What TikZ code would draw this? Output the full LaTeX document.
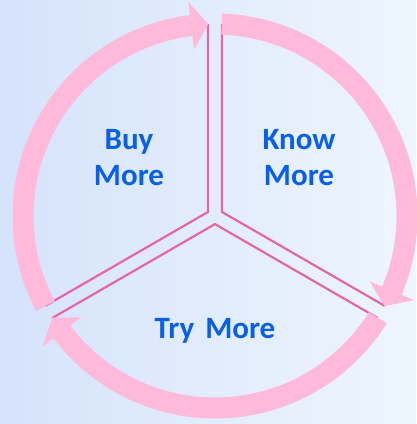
\documentclass[tikz,border=0pt]{standalone}
\usepackage{fontspec}
\setmainfont{Carlito}

\definecolor{bgleft}{HTML}{D5E3FB}
\definecolor{bgright}{HTML}{EEF5FD}
\definecolor{ringpink}{HTML}{FFB9DA}
\definecolor{spokepink}{HTML}{E466A9}
\definecolor{textblue}{HTML}{0A5FE8}

\begin{document}
\begin{tikzpicture}[x=1pt, y=1pt]
    \tikzset{
        bandstyle/.style={fill=ringpink},
        spokestyle/.style={draw=spokepink, line width=2.2pt, line join=miter},
        labelstyle/.style={text=textblue, font=\fontsize{31}{36}\selectfont\bfseries, align=center}
    }

    % --- FOND ---
    \shade[left color=bgleft, right color=bgright] (-215,-208) rectangle (201,216);
    \useasboundingbox (-215,-208) rectangle (201,216);

    % --- RAYONS (doubles traits) ---
    \coordinate (hubL) at (150:8.08);
    \coordinate (hubR) at (30:8.08);
    \coordinate (hubB) at (270:8.08);
    \coordinate (topL) at ([shift={(180:7)}]90:192);
    \coordinate (topR) at ([shift={(0:7)}]90:192);
    \coordinate (leftU) at ([shift={(120:7)}]210:192);
    \coordinate (leftD) at ([shift={(300:7)}]210:192);
    \coordinate (rightU) at ([shift={(60:7)}]330:192);
    \coordinate (rightD) at ([shift={(240:7)}]330:192);

    \draw[spokestyle] (leftU) -- (hubL) -- (topL);
    \draw[spokestyle] (topR) -- (hubR) -- (rightU);
    \draw[spokestyle] (leftD) -- (hubB) -- (rightD);

    % --- ANNEAU : 3 fleches circulaires ---
    % depart / pointe (en degres, sens horaire)
    \foreach \s/\e in {88/-28, -32/-148, -152/-268} {
        \pgfmathsetmacro{\b}{\e+5.1}
        \fill[bandstyle] (\s:202.5) arc[start angle=\s, end angle=\b, radius=202.5]
            -- (\b:216) -- (\e:192) -- (\b:168) -- (\b:181.5)
            arc[start angle=\b, end angle=\s, radius=181.5] -- cycle;
    }

    % --- TEXTES ---
    \node[labelstyle] (buy) at (-86,58) {Buy\\More};
    \node[labelstyle] (know) at (84,58) {Know\\More};
    \node[labelstyle, anchor=base] (try) at (0,-122) {Try\hspace{4pt} More};

\end{tikzpicture}
\end{document}
